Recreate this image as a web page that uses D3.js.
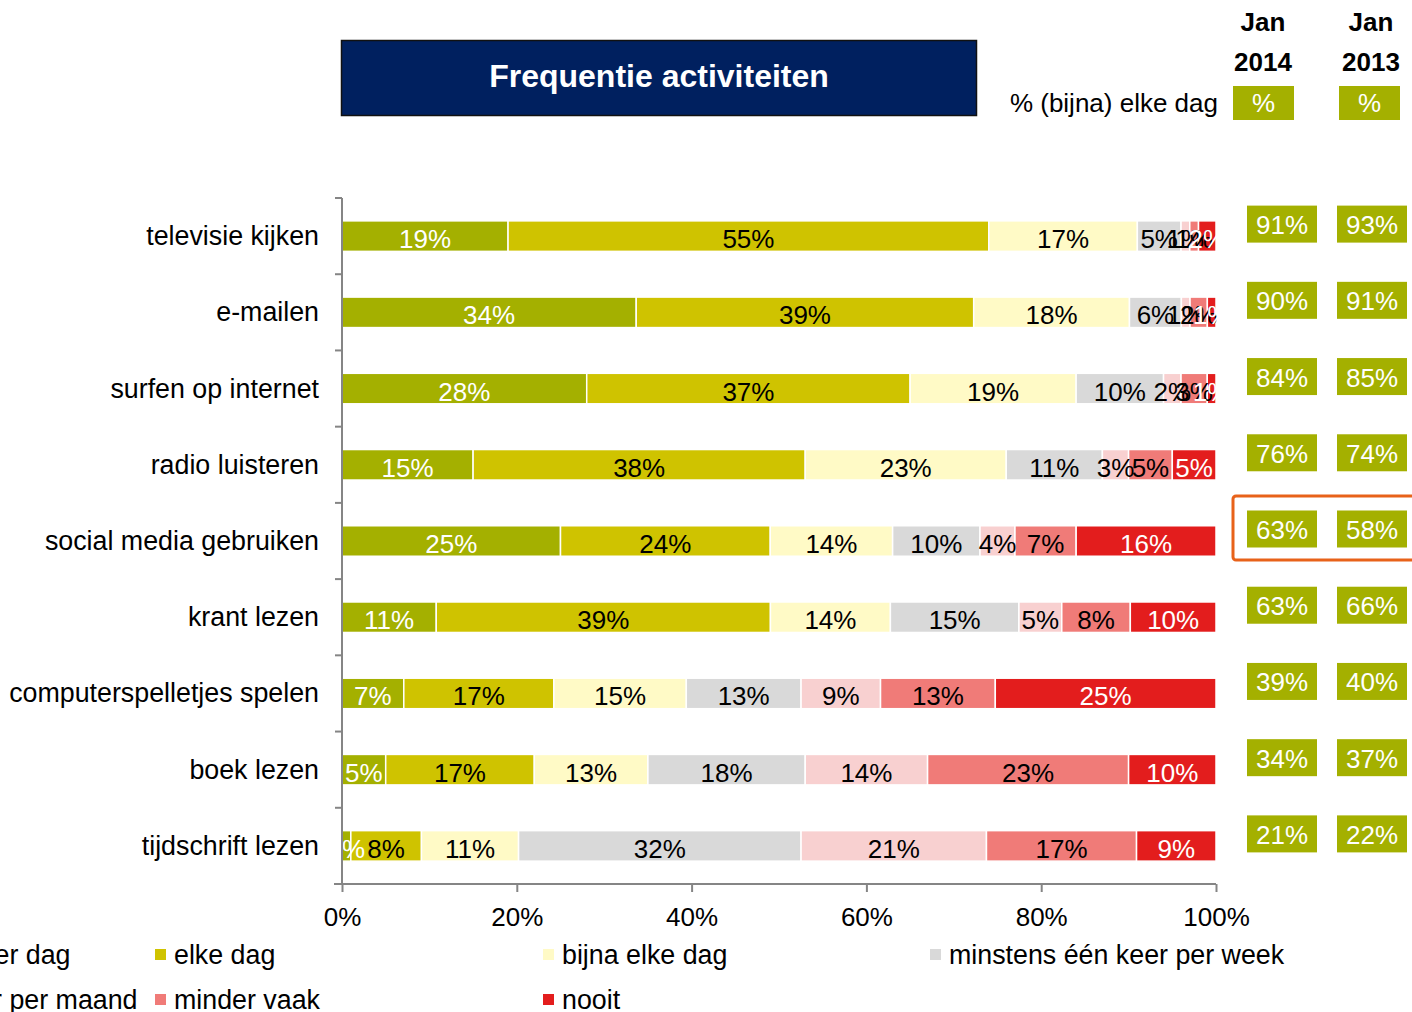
<!DOCTYPE html>
<html>
<head>
<meta charset="utf-8">
<script src="https://cdn.jsdelivr.net/npm/d3@7"></script>
<style>
  body { margin: 0; background: #fff; }
  svg { display: block; font-family: "Liberation Sans", Arial, sans-serif; }
</style>
</head>
<body>
<div id="vis"></div>
<script>
const categories = ["televisie kijken", "e-mailen", "surfen op internet", "radio luisteren",
  "social media gebruiken", "krant lezen", "computerspelletjes spelen", "boek lezen", "tijdschrift lezen"];

const seriesNames = ["meerdere keren per dag", "elke dag", "bijna elke dag", "minstens één keer per week",
  "minstens één keer per maand", "minder vaak", "nooit"];

const meerdereKeren = [19, 34, 28, 15, 25, 11, 7, 5, 1];
const elkeDag       = [55, 39, 37, 38, 24, 39, 17, 17, 8];
const bijnaElkeDag  = [17, 18, 19, 23, 14, 14, 15, 13, 11];
const perWeek       = [5, 6, 10, 11, 10, 15, 13, 18, 32];
const perMaand      = [1, 1, 2, 3, 4, 5, 9, 14, 21];
const minderVaak    = [1, 2, 3, 5, 7, 8, 13, 23, 17];
const nooit         = [2, 1, 1, 5, 16, 10, 25, 10, 9];

const jan2014 = [91, 90, 84, 76, 63, 63, 39, 34, 21];
const jan2013 = [93, 91, 85, 74, 58, 66, 40, 37, 22];

const xTicks = [0, 20, 40, 60, 80, 100];

const colors = ["#A4B000", "#CFC300", "#FFFAC6", "#D9D9D9", "#F8D0D0", "#F07B78", "#E31D1D"];
const labelColors = ["#fff", "#000", "#000", "#000", "#000", "#000", "#fff"];

function createVis() {
  const width = 1412;
  const height = 1012;
  const margin = { left: 342, right: 196, top: 198, bottom: 128 };
  const fs = 26;
  const fsText = 26.8; // category and legend text runs a little wider

  const svg = d3.select("#vis")
    .append("svg")
    .attr("width", width)
    .attr("height", height)
    .attr("viewBox", [0, 0, width, height]);

  const allSeries = [meerdereKeren, elkeDag, bijnaElkeDag, perWeek, perMaand, minderVaak, nooit];
  const rows = categories.map((c, i) => {
    const row = { cat: c };
    let total = 0;
    allSeries.forEach((s, j) => { row[j] = s[i]; total += s[i]; });
    row.total = total;
    return row;
  });

  // 100% stacked, normalise each row like Excel does
  const normRows = rows.map(r => {
    const o = { cat: r.cat };
    allSeries.forEach((s, j) => { o[j] = r[j] / r.total; });
    o.raw = r;
    return o;
  });
  const stack = d3.stack().keys(d3.range(allSeries.length));
  const stacked = stack(normRows);

  const x = d3.scaleLinear()
    .domain([0, 1])
    .range([margin.left, width - margin.right]);

  const y = d3.scaleBand()
    .domain(categories)
    .range([margin.top, height - margin.bottom])
    .paddingInner(0.6)
    .paddingOuter(0.3);

  // title box
  svg.append("rect")
    .attr("x", 341.5).attr("y", 40.5)
    .attr("width", 635).attr("height", 75)
    .attr("fill", "#00205F")
    .attr("stroke", "#111")
    .attr("stroke-width", 1.5);
  svg.append("text")
    .attr("x", 659).attr("y", 79)
    .attr("text-anchor", "middle")
    .attr("dominant-baseline", "middle")
    .attr("fill", "#fff")
    .attr("font-weight", "bold")
    .attr("font-size", 32)
    .text("Frequentie activiteiten");

  // bars
  const gBars = svg.append("g");
  stacked.forEach((layer, j) => {
    gBars.append("g")
      .attr("fill", colors[j])
      .selectAll("rect")
      .data(layer)
      .join("rect")
      .attr("x", d => x(d[0]))
      .attr("y", d => y(d.data.cat))
      .attr("width", d => Math.max(0, x(d[1]) - x(d[0])))
      .attr("height", y.bandwidth())
      .attr("stroke", "#fff")
      .attr("stroke-width", 1.5);
  });

  // segment labels
  const gLabels = svg.append("g")
    .attr("font-size", fs)
    .attr("text-anchor", "middle");
  stacked.forEach((layer, j) => {
    gLabels.append("g")
      .attr("fill", labelColors[j])
      .selectAll("text")
      .data(layer)
      .join("text")
      .attr("x", d => (x(d[0]) + x(d[1])) / 2)
      .attr("y", d => y(d.data.cat) + y.bandwidth() / 2 + 12)
      .text(d => d.data.raw[j] + "%");
  });

  // y axis
  const yBoundaries = d3.range(categories.length + 1)
    .map(i => margin.top + i * (height - margin.bottom - margin.top) / categories.length);
  const axisColor = "#858585";
  svg.append("line")
    .attr("x1", margin.left).attr("x2", margin.left)
    .attr("y1", margin.top).attr("y2", height - margin.bottom)
    .attr("stroke", axisColor).attr("stroke-width", 2);
  svg.append("g")
    .selectAll("line")
    .data(yBoundaries)
    .join("line")
    .attr("x1", margin.left - 7).attr("x2", margin.left)
    .attr("y1", d => d).attr("y2", d => d)
    .attr("stroke", axisColor).attr("stroke-width", 2);

  svg.append("g")
    .attr("font-size", fsText)
    .attr("text-anchor", "end")
    .selectAll("text")
    .data(categories)
    .join("text")
    .attr("x", 319)
    .attr("y", d => y(d) + y.bandwidth() / 2 + 9)
    .text(d => d);

  // x axis
  const xAxis = svg.append("g")
    .attr("transform", `translate(0,${height - margin.bottom})`)
    .call(d3.axisBottom(x)
      .tickValues(xTicks.map(t => t / 100))
      .tickSize(8)
      .tickSizeOuter(0)
      .tickFormat(d => Math.round(d * 100) + "%"));
  xAxis.select(".domain").attr("stroke", axisColor).attr("stroke-width", 2)
    .attr("d", `M${margin.left - 8},0H${width - margin.right}`);
  xAxis.selectAll(".tick line").attr("stroke", axisColor).attr("stroke-width", 2);
  xAxis.selectAll(".tick text")
    .attr("font-size", fs)
    .attr("font-family", "Liberation Sans, Arial, sans-serif")
    .attr("fill", "#000")
    .attr("dy", 0)
    .attr("y", 42);

  // legend
  const legendCols = [-236, 155, 543, 930];
  const legend = svg.append("g").attr("font-size", fsText);
  seriesNames.forEach((name, j) => {
    const col = j % 4;
    const row = Math.floor(j / 4);
    const lx = legendCols[col];
    const ly = 955 + row * 45;
    legend.append("rect")
      .attr("x", lx).attr("y", ly - 6)
      .attr("width", 11).attr("height", 11)
      .attr("fill", colors[j]);
    legend.append("text")
      .attr("x", lx + 19).attr("y", ly + 9)
      .text(name);
  });

  // right side header
  const col14 = 1263;
  const col13 = 1371;
  const hdr = svg.append("g")
    .attr("font-size", fs)
    .attr("font-weight", "bold")
    .attr("text-anchor", "middle");
  [[col14, "2014"], [col13, "2013"]].forEach(([cx, yr]) => {
    hdr.append("text").attr("x", cx).attr("y", 31).text("Jan");
    hdr.append("text").attr("x", cx).attr("y", 71).text(yr);
  });
  svg.append("text")
    .attr("x", 1218).attr("y", 112)
    .attr("text-anchor", "end")
    .attr("font-size", fs)
    .text("% (bijna) elke dag");
  [[1233, col14], [1339, col13]].forEach(([bx, cx]) => {
    svg.append("rect")
      .attr("x", bx).attr("y", 86)
      .attr("width", 61).attr("height", 34)
      .attr("fill", "#A4B000");
    svg.append("text")
      .attr("x", bx + 30.5).attr("y", 112)
      .attr("text-anchor", "middle")
      .attr("font-size", fs)
      .attr("fill", "#fff")
      .text("%");
  });

  // value boxes per activity
  const boxW = 70;
  const boxH = 37;
  [[jan2014, 1247], [jan2013, 1337]].forEach(([vals, bx]) => {
    const g = svg.append("g");
    g.selectAll("rect")
      .data(categories)
      .join("rect")
      .attr("x", bx)
      .attr("y", d => y(d) + y.bandwidth() / 2 - 12 - boxH / 2)
      .attr("width", boxW)
      .attr("height", boxH)
      .attr("fill", "#A4B000");
    g.selectAll("text")
      .data(categories)
      .join("text")
      .attr("x", bx + boxW / 2)
      .attr("y", d => y(d) + y.bandwidth() / 2 - 12 + 10)
      .attr("text-anchor", "middle")
      .attr("font-size", fs)
      .attr("fill", "#fff")
      .text((d, i) => vals[i] + "%");
  });

  // highlight around social media
  const hy = y("social media gebruiken") + y.bandwidth() / 2 - 12;
  svg.append("rect")
    .attr("x", 1233).attr("y", hy - 33)
    .attr("width", 200).attr("height", 64)
    .attr("rx", 3)
    .attr("fill", "none")
    .attr("stroke", "#E8621A")
    .attr("stroke-width", 3);
}

window.addEventListener("load", createVis);
</script>
</body>
</html>
